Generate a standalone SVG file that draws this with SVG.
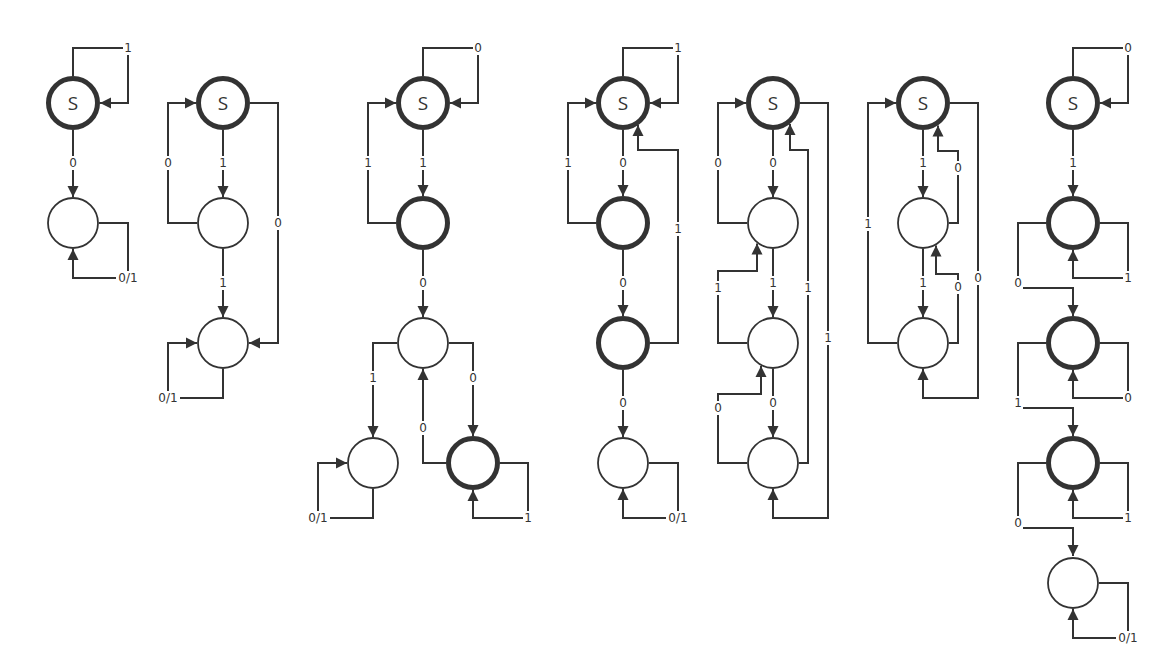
<svg xmlns="http://www.w3.org/2000/svg" width="1160" height="670" viewBox="0 0 1160 670">
<style>
.bg{fill:#fff}
.n{fill:#fff;stroke:#333}
.thick{stroke-width:5}
.thin{stroke-width:1.8}
.s{font-family:"Open Sans","DejaVu Sans",sans-serif;font-size:19px;fill:#333;text-anchor:middle;dominant-baseline:central}
.e{fill:none;stroke:#333;stroke-width:2;marker-end:url(#arr)}
.l{font-family:"DejaVu Sans",sans-serif;font-size:12px;fill:#333;text-anchor:middle;dominant-baseline:central}
.lb{fill:#fff}
</style>
<defs>
<marker id="arr" markerUnits="userSpaceOnUse" markerWidth="12" markerHeight="12" refX="11" refY="6" orient="auto" viewBox="0 0 12 12">
<path d="M0,0.5 L11,6 L0,11.5 z" fill="#333"/>
</marker>
<rect id="b1" class="lb" x="-5" y="-7" width="10" height="14"/>
<rect id="b3" class="lb" x="-12" y="-7" width="24" height="14"/>
</defs>
<rect class="bg" width="1160" height="670"/>
<g id="nodes">
<g id="d1-s"><circle class="n thick" cx="73" cy="103" r="24.5"/><text class="s" x="73" y="103">S</text></g>
<g id="d1-n2"><circle class="n thin" cx="73" cy="223" r="25"/></g>
<g id="d2-s"><circle class="n thick" cx="223" cy="103" r="24.5"/><text class="s" x="223" y="103">S</text></g>
<g id="d2-n2"><circle class="n thin" cx="223" cy="223" r="25"/></g>
<g id="d2-n3"><circle class="n thin" cx="223" cy="343" r="25"/></g>
<g id="d3-s"><circle class="n thick" cx="423" cy="103" r="24.5"/><text class="s" x="423" y="103">S</text></g>
<g id="d3-n2"><circle class="n thick" cx="423" cy="223" r="24.5"/></g>
<g id="d3-n3"><circle class="n thin" cx="423" cy="343" r="25"/></g>
<g id="d3-n4"><circle class="n thin" cx="373" cy="463" r="25"/></g>
<g id="d3-n5"><circle class="n thick" cx="473" cy="463" r="24.5"/></g>
<g id="d4-s"><circle class="n thick" cx="623" cy="103" r="24.5"/><text class="s" x="623" y="103">S</text></g>
<g id="d4-n2"><circle class="n thick" cx="623" cy="223" r="24.5"/></g>
<g id="d4-n3"><circle class="n thick" cx="623" cy="343" r="24.5"/></g>
<g id="d4-n4"><circle class="n thin" cx="623" cy="463" r="25"/></g>
<g id="d5-s"><circle class="n thick" cx="773" cy="103" r="24.5"/><text class="s" x="773" y="103">S</text></g>
<g id="d5-n2"><circle class="n thin" cx="773" cy="223" r="25"/></g>
<g id="d5-n3"><circle class="n thin" cx="773" cy="343" r="25"/></g>
<g id="d5-n4"><circle class="n thin" cx="773" cy="463" r="25"/></g>
<g id="d6-s"><circle class="n thick" cx="923" cy="103" r="24.5"/><text class="s" x="923" y="103">S</text></g>
<g id="d6-n2"><circle class="n thin" cx="923" cy="223" r="25"/></g>
<g id="d6-n3"><circle class="n thin" cx="923" cy="343" r="25"/></g>
<g id="d7-s"><circle class="n thick" cx="1073" cy="103" r="24.5"/><text class="s" x="1073" y="103">S</text></g>
<g id="d7-n2"><circle class="n thick" cx="1073" cy="223" r="24.5"/></g>
<g id="d7-n3"><circle class="n thick" cx="1073" cy="343" r="24.5"/></g>
<g id="d7-n4"><circle class="n thick" cx="1073" cy="463" r="24.5"/></g>
<g id="d7-n5"><circle class="n thin" cx="1073" cy="583" r="25"/></g>
</g>
<g id="connectors">
<path class="e" d="M73,76 V48 H128 V103 H100"/>
<path class="e" d="M73,130 V197"/>
<path class="e" d="M99,223 H128 V278 H73 V249"/>
<path class="e" d="M223,130 V197"/>
<path class="e" d="M223,249 V317"/>
<path class="e" d="M197,223 H168 V103 H196"/>
<path class="e" d="M250,103 H278 V343 H249"/>
<path class="e" d="M223,369 V398 H168 V343 H197"/>
<path class="e" d="M423,76 V48 H478 V103 H450"/>
<path class="e" d="M423,130 V196"/>
<path class="e" d="M396,223 H368 V103 H396"/>
<path class="e" d="M423,250 V317"/>
<path class="e" d="M397,343 H373 V437"/>
<path class="e" d="M449,343 H473 V436"/>
<path class="e" d="M446,463 H423 V369"/>
<path class="e" d="M500,463 H528 V518 H473 V490"/>
<path class="e" d="M373,489 V518 H318 V463 H347"/>
<path class="e" d="M623,76 V48 H678 V103 H650"/>
<path class="e" d="M623,130 V196"/>
<path class="e" d="M596,223 H568 V103 H596"/>
<path class="e" d="M623,250 V316"/>
<path class="e" d="M650,343 H678 V150 H638 V125"/>
<path class="e" d="M623,370 V437"/>
<path class="e" d="M649,463 H678 V518 H623 V489"/>
<path class="e" d="M773,130 V197"/>
<path class="e" d="M773,249 V317"/>
<path class="e" d="M773,369 V437"/>
<path class="e" d="M747,223 H718 V103 H746"/>
<path class="e" d="M747,343 H718 V271 H757 V243.5"/>
<path class="e" d="M747,463 H718 V394 H761 V366"/>
<path class="e" d="M799,463 H808 V150 H790 V124"/>
<path class="e" d="M800,103 H828 V518 H773 V489"/>
<path class="e" d="M923,130 V197"/>
<path class="e" d="M923,249 V317"/>
<path class="e" d="M949,223 H958 V151 H938 V125.5"/>
<path class="e" d="M949,343 H958 V274 H936 V245.5"/>
<path class="e" d="M897,343 H868 V103 H896"/>
<path class="e" d="M950,103 H978 V398 H923 V369"/>
<path class="e" d="M1073,76 V48 H1128 V103 H1100"/>
<path class="e" d="M1073,130 V196"/>
<path class="e" d="M1100,223 H1128 V278 H1073 V250"/>
<path class="e" d="M1046,223 H1018 V288 H1073 V316"/>
<path class="e" d="M1100,343 H1128 V398 H1073 V370"/>
<path class="e" d="M1046,343 H1018 V408 H1073 V436"/>
<path class="e" d="M1100,463 H1128 V518 H1073 V490"/>
<path class="e" d="M1046,463 H1018 V528 H1073 V556"/>
<path class="e" d="M1099,583 H1128 V638 H1073 V609"/>
</g>
<g id="labels">
<use href="#b1" x="128" y="48"/><text class="l" x="128" y="48">1</text>
<use href="#b1" x="73" y="163"/><text class="l" x="73" y="163">0</text>
<use href="#b3" x="128" y="278"/><text class="l" x="128" y="278">0/1</text>
<use href="#b1" x="223" y="163"/><text class="l" x="223" y="163">1</text>
<use href="#b1" x="223" y="283"/><text class="l" x="223" y="283">1</text>
<use href="#b1" x="168" y="163"/><text class="l" x="168" y="163">0</text>
<use href="#b1" x="278" y="223"/><text class="l" x="278" y="223">0</text>
<use href="#b3" x="168" y="398"/><text class="l" x="168" y="398">0/1</text>
<use href="#b1" x="478" y="48"/><text class="l" x="478" y="48">0</text>
<use href="#b1" x="423" y="163"/><text class="l" x="423" y="163">1</text>
<use href="#b1" x="368" y="163"/><text class="l" x="368" y="163">1</text>
<use href="#b1" x="423" y="283"/><text class="l" x="423" y="283">0</text>
<use href="#b1" x="373" y="378"/><text class="l" x="373" y="378">1</text>
<use href="#b1" x="473" y="378"/><text class="l" x="473" y="378">0</text>
<use href="#b1" x="423" y="428"/><text class="l" x="423" y="428">0</text>
<use href="#b1" x="528" y="518"/><text class="l" x="528" y="518">1</text>
<use href="#b3" x="318" y="518"/><text class="l" x="318" y="518">0/1</text>
<use href="#b1" x="678" y="48"/><text class="l" x="678" y="48">1</text>
<use href="#b1" x="623" y="163"/><text class="l" x="623" y="163">0</text>
<use href="#b1" x="568" y="163"/><text class="l" x="568" y="163">1</text>
<use href="#b1" x="623" y="283"/><text class="l" x="623" y="283">0</text>
<use href="#b1" x="678" y="229"/><text class="l" x="678" y="229">1</text>
<use href="#b1" x="623" y="403"/><text class="l" x="623" y="403">0</text>
<use href="#b3" x="678" y="518"/><text class="l" x="678" y="518">0/1</text>
<use href="#b1" x="773" y="163"/><text class="l" x="773" y="163">0</text>
<use href="#b1" x="773" y="283"/><text class="l" x="773" y="283">1</text>
<use href="#b1" x="773" y="403"/><text class="l" x="773" y="403">0</text>
<use href="#b1" x="718" y="163"/><text class="l" x="718" y="163">0</text>
<use href="#b1" x="718" y="288"/><text class="l" x="718" y="288">1</text>
<use href="#b1" x="718" y="408"/><text class="l" x="718" y="408">0</text>
<use href="#b1" x="808" y="288"/><text class="l" x="808" y="288">1</text>
<use href="#b1" x="828" y="338"/><text class="l" x="828" y="338">1</text>
<use href="#b1" x="923" y="163"/><text class="l" x="923" y="163">1</text>
<use href="#b1" x="923" y="283"/><text class="l" x="923" y="283">1</text>
<use href="#b1" x="958" y="168"/><text class="l" x="958" y="168">0</text>
<use href="#b1" x="958" y="287"/><text class="l" x="958" y="287">0</text>
<use href="#b1" x="868" y="224"/><text class="l" x="868" y="224">1</text>
<use href="#b1" x="978" y="278"/><text class="l" x="978" y="278">0</text>
<use href="#b1" x="1128" y="48"/><text class="l" x="1128" y="48">0</text>
<use href="#b1" x="1073" y="163"/><text class="l" x="1073" y="163">1</text>
<use href="#b1" x="1128" y="278"/><text class="l" x="1128" y="278">1</text>
<use href="#b1" x="1018" y="283"/><text class="l" x="1018" y="283">0</text>
<use href="#b1" x="1128" y="398"/><text class="l" x="1128" y="398">0</text>
<use href="#b1" x="1018" y="403"/><text class="l" x="1018" y="403">1</text>
<use href="#b1" x="1128" y="518"/><text class="l" x="1128" y="518">1</text>
<use href="#b1" x="1018" y="523"/><text class="l" x="1018" y="523">0</text>
<use href="#b3" x="1128" y="638"/><text class="l" x="1128" y="638">0/1</text>
</g>
</svg>
